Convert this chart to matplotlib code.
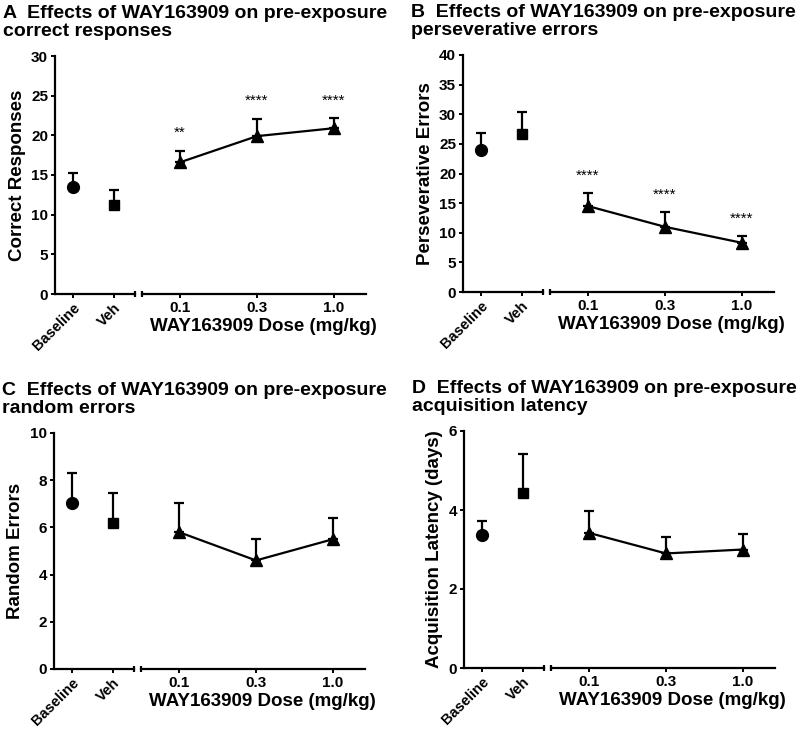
import numpy as np
import matplotlib
matplotlib.use("Agg")
import matplotlib.pyplot as plt

plt.rcParams['font.family'] = ['Liberation Sans', 'DejaVu Sans']
plt.rcParams['font.weight'] = 'bold'
plt.rcParams['axes.labelweight'] = 'bold'

ctrl_labels = ["Baseline", "Veh"]
dose_labels = ["0.1", "0.3", "1.0"]

# mean values: baseline, veh, 0.1, 0.3, 1.0
correct_mean = [13.5, 11.2, 16.6, 19.9, 20.9]
correct_sem = [1.7, 1.9, 1.4, 2.2, 1.3]
persev_mean = [23.9, 26.7, 14.5, 11.0, 8.3]
persev_sem = [2.9, 3.7, 2.2, 2.5, 1.2]
random_mean = [7.05, 6.2, 5.8, 4.6, 5.5]
random_sem = [1.25, 1.25, 1.25, 0.9, 0.9]
latency_mean = [3.37, 4.42, 3.42, 2.9, 3.0]
latency_sem = [0.35, 1.0, 0.55, 0.42, 0.38]

# significance marks above dose points
correct_stars = ["**", "****", "****"]
correct_star_y = [20.3, 24.4, 24.4]
persev_stars = ["****", "****", "****"]
persev_star_y = [19.6, 16.4, 12.3]

W, H = 800, 732
fig = plt.figure(figsize=(8, 7.32), dpi=100)

def px_ax(x0, x1, ytop, ybot):
    return fig.add_axes([x0 / W, 1 - ybot / H, (x1 - x0) / W, (ybot - ytop) / H])

def style(ax):
    for s in ['top', 'right']:
        ax.spines[s].set_visible(False)
    ax.spines['left'].set_linewidth(1.6)
    ax.spines['bottom'].set_linewidth(1.6)
    ax.tick_params(direction='out', length=3, width=1.4, labelsize=11, pad=2)

def panel(x0, ytop, ybot, title, ylab, mean, sem, ymax, ystep, stars=None, star_y=None):
    axl = px_ax(x0, x0 + 80, ytop, ybot)
    axr = px_ax(x0 + 87, x0 + 311, ytop, ybot)
    for ax in (axl, axr):
        style(ax)
        ax.set_ylim(0, ymax)
    axl.set_xlim(-18 / 41, 62 / 41)
    axr.set_xlim(-38 / 77, 186 / 77)
    axr.spines['left'].set_visible(False)
    axr.tick_params(axis='y', left=False, labelleft=False)
    axl.set_yticks(np.arange(0, ymax + 0.01, ystep))
    axl.set_yticklabels([f"{int(v)}" for v in np.arange(0, ymax + 0.01, ystep)])

    # controls
    mk = ['o', 's']
    ms = [8.5, 6.5]
    for i in range(2):
        axl.errorbar([i], [mean[i]], yerr=[[0], [sem[i]]], fmt=mk[i], ms=ms[i],
                     color='black', ecolor='black', elinewidth=1.6, capsize=3.5,
                     capthick=1.6, clip_on=False, zorder=3)
    axl.set_xticks([0, 1])
    axl.set_xticklabels(ctrl_labels, rotation=45, ha='right', va='top',
                        rotation_mode='anchor', fontsize=10.5)
    axl.set_ylabel(ylab, fontsize=13.5, labelpad=4)

    # doses
    xs = np.arange(3)
    axr.errorbar(xs, mean[2:], yerr=[np.zeros(3), sem[2:]], fmt='-^', ms=8.5,
                 color='black', ecolor='black', lw=1.6, elinewidth=1.6, capsize=3.5,
                 capthick=1.6, clip_on=False, zorder=3)
    axr.set_xticks(xs)
    axr.set_xticklabels(dose_labels)
    axr.set_xlabel("WAY163909 Dose (mg/kg)", fontsize=13.5)
    axr.xaxis.set_label_coords(0.54, -0.1)
    if stars:
        for x, s, y in zip(xs, stars, star_y):
            axr.text(x, y, s, ha='center', va='center', fontsize=11, fontweight='normal')

    # break caps
    for ax, xe in ((axl, 1), (axr, 0)):
        ax.plot([xe, xe], [-0.014, 0.014], transform=ax.transAxes, color='black',
                lw=1.6, clip_on=False, solid_capstyle='butt')

    fig.text((x0 - 52) / W, 1 - ytop / H + 51 / H, title, ha='left', va='top',
             fontsize=14, linespacing=1.1)

panel(55, 56, 294, "A  Effects of WAY163909 on pre-exposure\ncorrect responses",
      "Correct Responses", correct_mean, correct_sem, 30, 5, correct_stars, correct_star_y)
panel(463, 55, 292, "B  Effects of WAY163909 on pre-exposure\nperseverative errors",
      "Perseverative Errors", persev_mean, persev_sem, 40, 5, persev_stars, persev_star_y)
panel(54, 433, 669, "C  Effects of WAY163909 on pre-exposure\nrandom errors",
      "Random Errors", random_mean, random_sem, 10, 2)
panel(464, 431, 668, "D  Effects of WAY163909 on pre-exposure\nacquisition latency",
      "Acquisition Latency (days)", latency_mean, latency_sem, 6, 2)

fig.savefig("out.png", dpi=100)
